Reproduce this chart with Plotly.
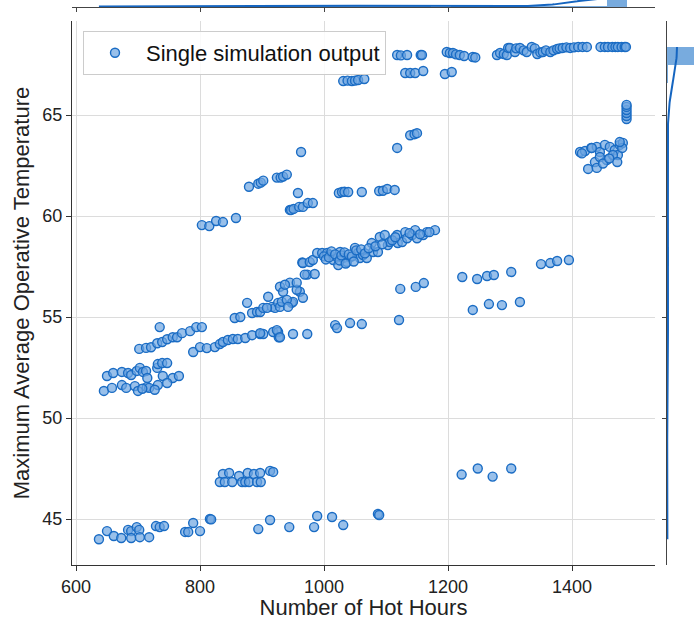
import numpy as np
import plotly.graph_objects as go

# ---------------- data ----------------
band_44_x = [637, 650, 661, 673, 684, 689, 689, 698, 702, 703, 718, 729, 735, 742, 776, 781, 789, 800, 816, 818,
             894, 913, 944, 984, 989, 1013, 1031, 1087, 1089]
band_44_y = [44.0, 44.4, 44.16, 44.06, 44.46, 44.4, 44.06, 44.6, 44.46, 44.1, 44.1, 44.65, 44.6, 44.65, 44.36, 44.36,
             44.8, 44.4, 45.0, 44.98, 44.5, 44.95, 44.6, 44.6, 45.15, 45.1, 44.7, 45.25, 45.2]

band_47_x = [837, 847, 863, 877, 887, 897, 913, 918, 832, 840, 852, 868, 873, 879, 892, 898, 1222, 1248, 1272, 1302]
band_47_y = [47.23, 47.28, 47.13, 47.28, 47.23, 47.28, 47.38, 47.33, 46.83, 46.83, 46.83, 46.83, 46.83, 46.83, 46.83,
             46.83, 47.2, 47.5, 47.1, 47.5]

band_52_x = [650, 660, 674, 684, 689, 698, 703, 708, 713, 715, 731, 732, 739, 747, 740, 756, 766,
             645, 658, 674, 681, 695, 700, 714, 718, 732, 747, 707, 727]
band_52_y = [52.08, 52.23, 52.28, 52.23, 52.13, 52.33, 52.48, 52.28, 52.33, 51.98, 52.48, 52.67, 52.72, 52.72, 52.08,
             51.98, 52.08, 51.34, 51.49, 51.63, 51.49, 51.58, 51.34, 51.53, 51.49, 51.63, 51.73, 51.45, 51.4]

band_54_x = [702, 713, 721, 731, 739, 747, 756, 763, 771, 784, 794, 803, 735,
             789, 800, 811, 824, 832, 837, 845, 853, 861, 873, 884, 897, 902, 918, 926, 927, 950, 973,
             897, 924, 929, 1018, 1021, 1042, 1061, 1121]
band_54_y = [53.42, 53.47, 53.5, 53.7, 53.76, 53.9, 54.0, 54.0, 54.2, 54.3, 54.5, 54.5, 54.5,
             53.27, 53.51, 53.46, 53.51, 53.66, 53.76, 53.86, 53.91, 53.91, 53.96, 54.1, 54.16, 54.16, 54.26, 54.26,
             54.0, 54.16, 54.16,
             54.2, 54.35, 54.0, 54.6, 54.45, 54.7, 54.65, 54.85]

band_56_x = [856, 865, 876, 884, 892, 897, 902, 910, 916, 921, 926, 929, 934, 945, 948, 950, 961, 965, 973,
             908, 929, 932, 940, 942, 956, 966, 937, 956, 969, 985, 966, 977, 982]
band_56_y = [54.95, 55.0, 55.7, 55.2, 55.25, 55.25, 55.45, 56.0, 55.5, 55.45, 55.7, 56.5, 56.25, 56.7, 55.7, 55.75,
             56.25, 57.7, 57.1,
             55.45, 55.5, 55.75, 55.85, 55.5, 56.35, 55.95, 56.6, 56.7, 57.1, 57.13, 57.67, 57.72, 57.82]

band_58_x = [989, 997, 1005, 1010, 1015, 1021, 1023, 1026, 1031, 1037, 1042, 1050, 1055, 1058, 1063, 1069, 1077,
             1079, 1087, 1090, 1098, 1103, 1106, 1118, 1119, 1126, 1131, 1134, 1142, 1147, 1150, 1160, 1166, 1179,
             1000, 1003, 1008, 1012, 1018, 1025, 1028, 1033, 1035, 1040, 1045, 1048, 1052, 1060, 1066, 1072, 1083,
             1094, 1110, 1115, 1138, 1155, 1170]
band_58_y = [58.17, 58.17, 58.17, 58.07, 57.82, 57.97, 57.57, 58.22, 57.92, 57.72, 57.97, 58.42, 58.17, 57.92, 58.07,
             57.92, 58.66, 58.22, 58.22, 58.96, 59.06, 58.56, 58.71, 59.06, 58.66, 58.71, 59.2, 58.9, 59.06, 59.3,
             58.9, 59.06, 59.2, 59.3,
             58.0, 57.85, 57.95, 58.25, 58.1, 57.8, 58.05, 58.2, 57.65, 58.1, 58.0, 57.75, 58.3, 58.35, 58.15, 58.4,
             58.5, 58.6, 58.8, 58.95, 59.15, 59.1, 59.2]

right_56_x = [1123, 1148, 1161, 1223, 1247, 1263, 1274, 1302, 1350, 1365, 1376, 1395,
              1240, 1266, 1287, 1316]
right_56_y = [56.39, 56.49, 56.68, 56.98, 56.88, 57.03, 57.08, 57.23, 57.62, 57.67, 57.77, 57.82,
              55.35, 55.64, 55.59, 55.74]

band_60_x = [803, 815, 826, 837, 858, 879, 894, 898, 902, 924, 930, 934, 940, 963,
             945, 947, 951, 960, 966, 974, 982,
             958, 1024, 1029, 1033, 1039, 1061, 1089, 1095, 1102, 1114]
band_60_y = [59.55, 59.5, 59.75, 59.7, 59.9, 61.45, 61.6, 61.65, 61.75, 61.9, 61.9, 61.95, 62.05, 63.17,
             60.3, 60.3, 60.35, 60.45, 60.45, 60.64, 60.64,
             61.14, 61.14, 61.19, 61.2, 61.19, 61.19, 61.24, 61.25, 61.34, 61.29]

upper_x = [1118, 1139, 1146, 1150,
           1031, 1038, 1045, 1050, 1055, 1065,
           1131, 1139, 1147, 1160, 1195, 1206]
upper_y = [63.37, 64.0, 64.05, 64.1,
           66.68, 66.7, 66.68, 66.7, 66.73, 66.78,
           67.08, 67.08, 67.08, 67.18, 67.03, 67.13]

top_x = [1118, 1124, 1134, 1156, 1158, 1198, 1203, 1208, 1213, 1219, 1226, 1240, 1244, 1279, 1284, 1290, 1295,
         1297, 1300, 1308, 1310, 1316, 1322, 1327, 1335, 1340, 1344, 1349, 1353, 1358, 1365, 1370, 1376, 1380,
         1385, 1391, 1397, 1403, 1410, 1417, 1424, 1446, 1453, 1458, 1465, 1470, 1474, 1480, 1485, 1487]
top_y = [67.97, 67.95, 67.97, 67.97, 67.97, 68.12, 68.07, 68.07, 68.0, 67.97, 67.92, 67.87, 67.85, 67.97, 68.07,
         68.02, 67.97, 68.32, 68.32, 68.12, 68.3, 68.32, 68.2, 68.12, 68.37, 68.3, 68.02, 68.1, 68.12, 68.2, 68.12,
         68.2, 68.27, 68.3, 68.32, 68.35, 68.32, 68.35, 68.37, 68.37, 68.37, 68.37, 68.37, 68.37, 68.37, 68.37,
         68.37, 68.37, 68.37, 68.37]

right_63_x = [1488, 1488, 1488, 1488, 1488, 1488,
              1413, 1421, 1431, 1440, 1445, 1453, 1461, 1469, 1477, 1482, 1474, 1456, 1437, 1426, 1440, 1445,
              1466, 1473, 1481, 1416, 1432, 1477, 1450, 1460]
right_63_y = [64.8, 64.95, 65.1, 65.25, 65.4, 65.5,
              63.17, 63.22, 63.37, 63.42, 63.17, 63.52, 63.42, 63.27, 63.52, 63.62, 63.02, 62.77, 62.67, 62.33,
              62.38, 62.92, 63.02, 62.67, 63.37, 63.1, 63.37, 63.66, 62.6, 62.85]

# many simulations saturate at the same output and overlap in one marker
overlap_x = [1485]
overlap_y = [68.37]
overlap_count = [700]

tick_x = [600, 800, 1000, 1200, 1400]
tick_y = [45, 50, 55, 60, 65]

# ---------------- assemble ----------------
hot_hours = np.array(band_44_x + band_47_x + band_52_x + band_54_x + band_56_x + band_58_x + right_56_x
                     + band_60_x + upper_x + top_x + right_63_x, dtype=float)
max_temp = np.array(band_44_y + band_47_y + band_52_y + band_54_y + band_56_y + band_58_y + right_56_y
                    + band_60_y + upper_y + top_y + right_63_y, dtype=float)

all_x = np.concatenate([hot_hours, np.repeat(overlap_x, overlap_count)])
all_y = np.concatenate([max_temp, np.repeat(overlap_y, overlap_count)])


def kde(values, grid):
    n = len(values)
    bw = np.std(values, ddof=1) * n ** (-1 / 5)
    z = (grid[:, None] - values[None, :]) / bw
    return np.exp(-0.5 * z ** 2).sum(axis=1) / (n * bw * np.sqrt(2 * np.pi))


gx = np.linspace(all_x.min(), all_x.max(), 300)
gy = np.linspace(all_y.min(), all_y.max(), 300)
kx = kde(all_x, gx)
ky = kde(all_y, gy)

nb = 27
hx, ex = np.histogram(all_x, bins=nb, density=True)
hy, ey = np.histogram(all_y, bins=nb, density=True)

W, H = 694, 620
L, R, T, B = 72, 655, 21, 565
blue = '#1565c0'
bar_col = 'rgba(30,115,200,0.6)'

fig = go.Figure()
fig.add_trace(go.Scatter(
    x=hot_hours, y=max_temp, mode='markers', name='Single simulation output',
    marker=dict(size=9, color='rgba(110,165,225,0.7)', line=dict(color='#1a6cc4', width=1.4)),
    xaxis='x', yaxis='y', showlegend=True))

# top marginal
fig.add_trace(go.Bar(x=(ex[:-1] + ex[1:]) / 2, y=hx, width=np.diff(ex),
                     marker=dict(color=bar_col, line=dict(width=0)),
                     xaxis='x2', yaxis='y2', showlegend=False))
fig.add_trace(go.Scatter(x=gx, y=kx, mode='lines', line=dict(color=blue, width=2),
                         xaxis='x2', yaxis='y2', showlegend=False))
# right marginal
fig.add_trace(go.Bar(y=(ey[:-1] + ey[1:]) / 2, x=hy, width=np.diff(ey), orientation='h',
                     marker=dict(color=bar_col, line=dict(width=0)),
                     xaxis='x3', yaxis='y3', showlegend=False))
fig.add_trace(go.Scatter(x=ky, y=gy, mode='lines', line=dict(color=blue, width=2),
                         xaxis='x3', yaxis='y3', showlegend=False))

xr = [600 + (L - 76) / 0.62, 600 + (R - 76) / 0.62]
yr = [45 - (B - 519) / 20.2, 65 + (115 - T) / 20.2]
font = 'Liberation Sans, Arial, sans-serif'

fig.update_layout(
    width=W, height=H, margin=dict(l=0, r=0, t=0, b=0, autoexpand=False),
    plot_bgcolor='white', paper_bgcolor='white',
    font=dict(family=font, size=16, color='#222'),
    bargap=0,
    xaxis=dict(domain=[L / W, R / W], range=xr, anchor='y', tickvals=tick_x, automargin=False,
               showgrid=True, gridcolor='#dcdcdc', gridwidth=1, zeroline=False,
               showline=True, linecolor='#333', linewidth=1.2, ticks='outside', ticklen=5, tickcolor='#333',
               tickfont=dict(size=18),
               title=dict(text='Number of Hot Hours', font=dict(size=22), standoff=2)),
    yaxis=dict(domain=[1 - B / H, 1 - T / H], range=yr, anchor='x', tickvals=tick_y, automargin=False,
               showgrid=True, gridcolor='#dcdcdc', gridwidth=1, zeroline=False,
               showline=True, linecolor='#333', linewidth=1.2, ticks='outside', ticklen=5, tickcolor='#333',
               tickfont=dict(size=18),
               title=dict(text='Maximum Average Operative Temperature', font=dict(size=22), standoff=6)),
    xaxis2=dict(domain=[L / W, R / W], matches='x', anchor='y2', tickvals=tick_x, showticklabels=False,
                automargin=False,
                showgrid=False, zeroline=False, showline=True, linecolor='#444', linewidth=1.2,
                ticks='outside', ticklen=4, tickcolor='#444'),
    yaxis2=dict(domain=[1 - 7 / H, 1], range=[0, float(kx.max()) * 0.62], anchor='x2', automargin=False,
                showticklabels=False, showgrid=False, zeroline=False, showline=False, ticks=''),
    xaxis3=dict(domain=[667 / W, 1], range=[0, float(ky.max()) * 27 / 10], anchor='y3', automargin=False,
                showticklabels=False, showgrid=False, zeroline=False, showline=False, ticks=''),
    yaxis3=dict(domain=[1 - B / H, 1 - T / H], matches='y', anchor='x3', tickvals=tick_y, showticklabels=False,
                automargin=False,
                showgrid=False, zeroline=False, showline=True, linecolor='#444', linewidth=1.2,
                ticks='outside', ticklen=4, tickcolor='#444'),
    legend=dict(x=83 / W, y=1 - 31 / H, xanchor='left', yanchor='top', itemwidth=52,
                bgcolor='rgba(255,255,255,0.85)', bordercolor='#cccccc', borderwidth=1,
                font=dict(size=22, color='#111')),
)

fig.write_html('out.html', config={'displayModeBar': False},
               post_script="document.body.style.margin='0';")
